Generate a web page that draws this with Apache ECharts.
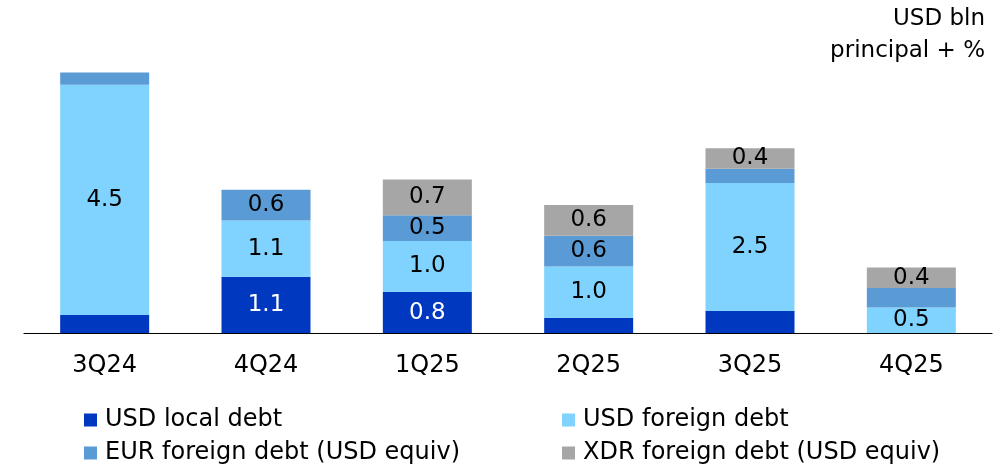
<!DOCTYPE html>
<html>
<head>
<meta charset="utf-8">
<script src="https://cdn.jsdelivr.net/npm/echarts@6/dist/echarts.min.js"></script>
<style>
  html, body { margin: 0; padding: 0; background: #ffffff; }
  #chart { width: 1007px; height: 470px; }
</style>
</head>
<body>
<div id="chart"></div>
<script>
// Quarterly debt repayments, USD bln (principal + interest)
const quarters = ['3Q24', '4Q24', '1Q25', '2Q25', '3Q25', '4Q25'];

const usdLocal   = [0.35, 1.1, 0.8, 0.3, 0.43, 0];
const usdForeign = [4.5, 1.1, 1.0, 1.0, 2.5, 0.5];
const eurForeign = [0.24, 0.6, 0.5, 0.6, 0.28, 0.38];
const xdrForeign = [0, 0, 0.7, 0.6, 0.4, 0.4];

// which segments carry a value label
const usdLocalShown   = [false, true, true, false, false, false];
const usdForeignShown = [true, true, true, true, true, true];
const eurForeignShown = [false, true, true, true, false, false];
const xdrForeignShown = [false, false, true, true, true, true];

const seriesNames = [
  'USD local debt',
  'USD foreign debt',
  'EUR foreign debt (USD equiv)',
  'XDR foreign debt (USD equiv)'
];
const seriesColors = ['#0038BF', '#80D2FF', '#5B9BD5', '#A6A6A6'];

const FONT = 'DejaVu Sans';

function items(values, shown) {
  return values.map((v, i) => ({ value: v, label: { show: shown[i] } }));
}

function barSeries(idx, values, shown, labelColor) {
  return {
    name: seriesNames[idx],
    type: 'bar',
    stack: 'total',
    barWidth: 89,
    data: items(values, shown),
    itemStyle: { color: seriesColors[idx] },
    label: {
      position: 'inside',
      color: labelColor,
      fontFamily: FONT,
      fontSize: 23,
      formatter: p => p.value.toFixed(1)
    },
    emphasis: { disabled: true }
  };
}

// one legend block per entry, laid out in two columns of two rows
function legendEntry(idx, left, top) {
  return {
    data: [seriesNames[idx]],
    left: left,
    top: top,
    icon: 'rect',
    itemWidth: 13,
    itemHeight: 13,
    selectedMode: false,
    padding: 0,
    textStyle: { color: '#000000', fontFamily: FONT, fontSize: 24, padding: [0, 0, 0, 3] }
  };
}

const chart = echarts.init(document.getElementById('chart'), null, { renderer: 'canvas' });

chart.setOption({
  animation: false,
  backgroundColor: '#ffffff',
  grid: { left: 24, right: 15, top: 26, bottom: 137, containLabel: false },
  xAxis: {
    type: 'category',
    data: quarters,
    axisLine: { show: true, lineStyle: { color: '#000000', width: 1.2 } },
    axisTick: { show: false },
    axisLabel: { color: '#000000', fontFamily: FONT, fontSize: 24, margin: 21 }
  },
  yAxis: {
    type: 'value',
    min: 0,
    max: 6,
    show: false,
    splitLine: { show: false }
  },
  legend: [
    legendEntry(0, 84, 408),
    legendEntry(2, 84, 441),
    legendEntry(1, 562, 408),
    legendEntry(3, 562, 441)
  ],
  graphic: [
    {
      type: 'text',
      right: 22,
      top: 8,
      style: { text: 'USD bln', fill: '#000000', font: '23px "DejaVu Sans"' }
    },
    {
      type: 'text',
      right: 22,
      top: 40,
      style: { text: 'principal + %', fill: '#000000', font: '23px "DejaVu Sans"' }
    }
  ],
  series: [
    barSeries(0, usdLocal, usdLocalShown, '#ffffff'),
    barSeries(1, usdForeign, usdForeignShown, '#000000'),
    barSeries(2, eurForeign, eurForeignShown, '#000000'),
    barSeries(3, xdrForeign, xdrForeignShown, '#000000')
  ]
});
</script>
</body>
</html>
